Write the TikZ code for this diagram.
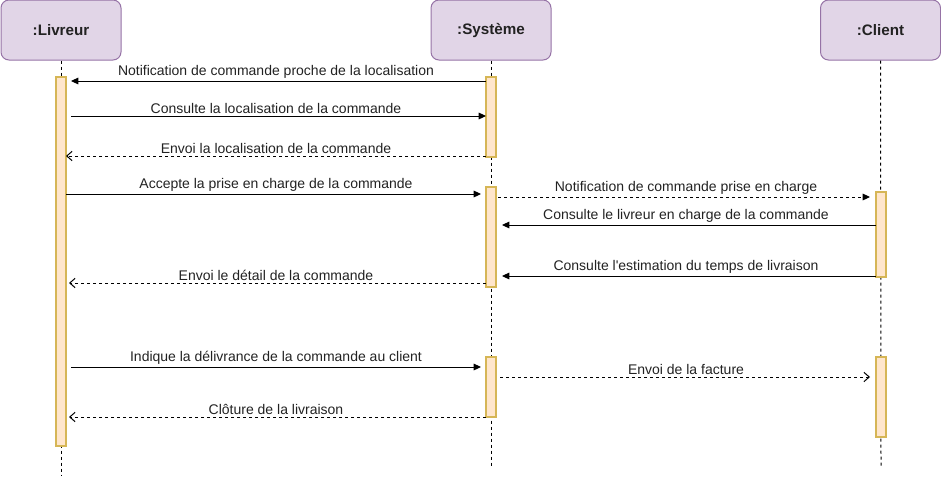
\documentclass[tikz,border=0pt]{standalone}
\usepackage{fontspec}
\setmainfont{Liberation Sans}
\usepackage{xcolor}
\usetikzlibrary{arrows.meta}
\definecolor{headfill}{HTML}{E1D5E7}
\definecolor{headline}{HTML}{9673A6}
\definecolor{barfill}{HTML}{FFE6CC}
\definecolor{barline}{HTML}{D6B656}
\definecolor{txt}{HTML}{222222}
\tikzset{head/.style={draw=headline,fill=headfill,rounded corners=6pt,minimum width=90pt,minimum height=45pt,
    inner sep=0pt,font=\fontsize{11.4}{13}\selectfont\bfseries,text=txt},
  bar/.style={draw=barline,fill=barfill,line width=1pt,minimum width=7.5pt,inner sep=0pt,outer sep=0pt,anchor=north},
  life/.style={dash pattern=on 2.25pt off 2.25pt},
  call/.style={-{Triangle[length=5.5pt,width=5pt]}},
  reply/.style={dash pattern=on 2.25pt off 2.25pt,-{Straight Barb[length=4pt,width=7pt]}},
  msg label/.style={font=\fontsize{10.5}{12}\selectfont,text=txt,above,inner sep=1.5pt}}

\begin{document}
\begin{tikzpicture}[x=0.75pt,y=-0.75pt,line width=0.75pt]
			\useasboundingbox (0,0) rectangle (941,479);
			% participants
			\node[head] (hl) at (61,30) {:Livreur};
			\node[head] (hs) at (491,30) {:Système};
			\node[head] (hc) at (880.5,30) {:Client};
			\coordinate (el) at (61,476);
			\coordinate (es) at (491,466);
			\coordinate (ec) at (881,466);
			\draw[life] (hl.south) -- (el);
			\draw[life] (hs.south) -- (es);
			\draw[life] (hc.south) -- (ec);
			% activations
			\node[bar,minimum height=276.75pt] (bl) at (61,77) {};
			\node[bar,minimum height=60pt] (bs1) at (491,77) {};
			\node[bar,minimum height=75pt] (bs2) at (491,187) {};
			\node[bar,minimum height=45pt] (bs3) at (491,357) {};
			\node[bar,minimum height=63.75pt] (bc1) at (881,192) {};
			\node[bar,minimum height=60pt] (bc2) at (881,357) {};
			% rows
			\coordinate (r1) at (0,81);
			\coordinate (r2) at (0,116);
			\coordinate (r3) at (0,156);
			\coordinate (r4) at (0,194);
			\coordinate (r5) at (0,197);
			\coordinate (r6) at (0,225);
			\coordinate (r7) at (0,276);
			\coordinate (r8) at (0,283);
			\coordinate (r9) at (0,367);
			\coordinate (r10) at (0,377);
			\coordinate (r11) at (0,417);
			% messages
			\draw[call,shorten >=3.75pt] (bs1.west |- r1) -- node[msg label]{Notification de commande proche de la localisation} (bl.east |- r1);
			\draw[call,shorten <=3.75pt] (bl.east |- r2) -- node[msg label]{Consulte la localisation de la commande} (bs1.west |- r2);
			\draw[reply] (bs1.west |- r3) -- node[msg label]{Envoi la localisation de la commande} (bl.east |- r3);
			\draw[call,shorten >=3.75pt] (bl.east |- r4) -- node[msg label]{Accepte la prise en charge de la commande} (bs2.west |- r4);
			\draw[reply,-{Triangle[length=5.5pt,width=5pt]},shorten <=1.5pt,shorten >=4.5pt] (bs2.east |- r5) -- node[msg label]{Notification de commande prise en charge} (bc1.west |- r5);
			\draw[call,shorten >=4.5pt] (bc1.west |- r6) -- node[msg label]{Consulte le livreur en charge de la commande} (bs2.east |- r6);
			\draw[call,shorten >=4.5pt] (bc1.west |- r7) -- node[msg label]{Consulte l\textquotesingle estimation du temps de livraison} (bs2.east |- r7);
			\draw[reply,shorten >=2.25pt] (bs2.west |- r8) -- node[msg label]{Envoi le détail de la commande} (bl.east |- r8);
			\draw[call,shorten <=3.75pt,shorten >=3.75pt] (bl.east |- r9) -- node[msg label]{Indique la délivrance de la commande au client} (bs3.west |- r9);
			\draw[reply,shorten <=3pt,shorten >=4.5pt] (bs3.east |- r10) -- node[msg label]{Envoi de la facture} (bc2.west |- r10);
			\draw[reply,shorten >=2.25pt] (bs3.west |- r11) -- node[msg label]{Clôture de la livraison} (bl.east |- r11);
		\end{tikzpicture}
\end{document}
